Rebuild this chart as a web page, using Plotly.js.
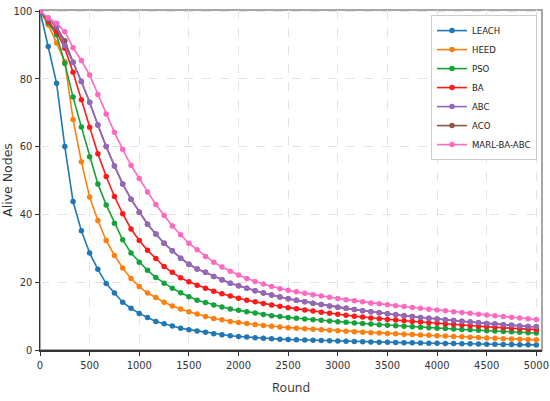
<!DOCTYPE html>
<html>
<head>
<meta charset="utf-8">
<script src="https://cdn.plot.ly/plotly-3.0.1.min.js"></script>
<style>html,body{margin:0;padding:0;background:#fff;}#chart{width:550px;height:401px;}</style>
</head>
<body>
<div id="chart"></div>
<script>
// Rounds: 61 samples from 0 to 5000
var rounds = [];
for (var k = 0; k <= 60; k++) { rounds.push(Math.round(k * 5000 / 60)); }

var seriesNames = ["LEACH", "HEED", "PSO", "BA", "ABC", "ACO", "MARL-BA-ABC"];

var leach = [100, 89.5, 78.7, 60.0, 43.8, 35.2, 28.6, 23.8, 19.6, 16.8, 14.1, 12.3, 10.8, 9.6, 8.4, 7.75, 7.1, 6.4, 6.0, 5.6,
  5.2, 4.8, 4.5, 4.2, 4.0, 3.8, 3.6, 3.45, 3.3, 3.2, 3.1,
  3.02, 2.94, 2.86, 2.79, 2.72, 2.65, 2.58, 2.51, 2.44, 2.37,
  2.31, 2.26, 2.21, 2.16, 2.11, 2.06, 2.01, 1.97, 1.93, 1.89, 1.85, 1.81, 1.77, 1.73, 1.69, 1.65, 1.61, 1.57, 1.54, 1.50];

var heed = [100, 95.9, 90.6, 85.0, 68.0, 55.5, 45.1, 38.2, 32.3, 27.9, 24.2, 21.1, 18.7, 16.8, 15.5, 14.1, 13.0, 12.1, 11.3, 10.6,
  9.9, 9.3, 8.9, 8.4, 8.1, 7.8, 7.5, 7.25, 7.0, 6.8, 6.6,
  6.45, 6.3, 6.15, 6.0, 5.85, 5.7, 5.55, 5.4, 5.25, 5.1,
  4.99, 4.88, 4.77, 4.66, 4.55, 4.44, 4.33, 4.22, 4.11, 4.00, 3.89, 3.78, 3.67, 3.56, 3.45, 3.35, 3.25, 3.16, 3.08, 3.00];

var pso = [100, 96.5, 93.0, 84.5, 74.6, 65.8, 57.0, 49.0, 42.8, 37.4, 32.5, 28.6, 25.9, 23.5, 21.4, 19.7, 18.2, 16.9, 15.7, 14.7,
  14.0, 13.3, 12.7, 12.1, 11.7, 11.3, 10.9, 10.5, 10.1, 9.85, 9.6,
  9.38, 9.17, 8.96, 8.76, 8.56, 8.37, 8.18, 8.00, 7.82, 7.65,
  7.48, 7.32, 7.16, 7.01, 6.86, 6.72, 6.58, 6.45, 6.32, 6.19, 6.06, 5.94, 5.82, 5.70, 5.58, 5.46, 5.35, 5.24, 5.12, 5.00];

var ba = [100, 97.0, 93.9, 89.0, 81.9, 73.8, 65.7, 57.9, 51.2, 45.3, 40.2, 35.7, 32.3, 29.4, 27.0, 24.6, 22.9, 21.3, 20.1, 19.1,
  18.2, 17.3, 16.6, 15.9, 15.3, 14.7, 14.2, 13.7, 13.3, 12.9, 12.5,
  12.15, 11.8, 11.47, 11.15, 10.84, 10.54, 10.25, 9.97, 9.70, 9.45,
  9.24, 9.03, 8.83, 8.63, 8.43, 8.24, 8.05, 7.87, 7.69, 7.52, 7.35, 7.18, 7.02, 6.86, 6.71, 6.56, 6.42, 6.28, 6.14, 6.00];

var abc = [100, 97.8, 95.4, 89.8, 84.9, 79.2, 73.1, 66.4, 60.0, 54.3, 49.0, 44.5, 40.6, 37.1, 34.2, 31.5, 29.3, 27.1, 25.3, 23.9,
  22.9, 21.7, 20.7, 19.7, 18.95, 18.2, 17.5, 16.8, 16.2, 15.6, 15.1,
  14.65, 14.22, 13.80, 13.40, 13.01, 12.64, 12.28, 11.93, 11.59, 11.26,
  10.96, 10.67, 10.39, 10.12, 9.86, 9.61, 9.37, 9.14, 8.91, 8.69, 8.47, 8.26, 8.05, 7.85, 7.66, 7.47, 7.29, 7.11, 6.94, 6.85];

var aco = [100, 97.6, 95.2, 91.2, 84.9, 79.2, 73.1, 66.4, 60.0, 54.3, 49.0, 44.5, 40.6, 37.1, 34.2, 31.5, 29.3, 27.1, 25.3, 23.9,
  22.9, 21.7, 20.7, 19.7, 18.95, 18.2, 17.5, 16.8, 16.2, 15.6, 15.1,
  14.65, 14.22, 13.80, 13.40, 13.01, 12.64, 12.28, 11.93, 11.59, 11.26,
  10.96, 10.67, 10.39, 10.12, 9.86, 9.61, 9.37, 9.14, 8.91, 8.69, 8.47, 8.26, 8.05, 7.85, 7.66, 7.47, 7.29, 7.11, 6.94, 6.85];

var marl = [100, 98.0, 96.4, 93.9, 89.2, 85.4, 81.1, 75.4, 69.6, 64.2, 59.2, 54.5, 50.6, 46.6, 42.9, 39.7, 36.6, 34.0, 31.5, 29.6,
  27.6, 25.9, 24.5, 23.2, 22.1, 21.1, 20.2, 19.45, 18.75, 18.1, 17.6,
  17.15, 16.72, 16.31, 15.92, 15.55, 15.2, 14.86, 14.53, 14.21, 13.9,
  13.62, 13.35, 13.08, 12.82, 12.56, 12.30, 12.05, 11.80, 11.55, 11.30, 11.06, 10.82, 10.58, 10.35, 10.12, 9.89, 9.66, 9.44, 9.22, 9.00];

var xTicks = [0, 500, 1000, 1500, 2000, 2500, 3000, 3500, 4000, 4500, 5000];
var yTicks = [0, 20, 40, 60, 80, 100];

var colors = ["#1f77b4", "#ff7f0e", "#14a33a", "#ff1a1a", "#9467bd", "#8c564b", "#ff69c0"];
var values = [leach, heed, pso, ba, abc, aco, marl];
// draw order: ACO beneath ABC
var drawOrder = [0, 1, 2, 3, 5, 4, 6];

var traces = drawOrder.map(function (i) {
  return {
    x: rounds, y: values[i], name: seriesNames[i], type: "scatter", mode: "lines+markers",
    line: {color: colors[i], width: 1.6},
    marker: {color: colors[i], size: 5.5, symbol: "circle"},
    legendrank: i + 1
  };
});

var tickFont = {family: "'Liberation Sans Narrow', 'DejaVu Sans Condensed', 'Open Sans', sans-serif", size: 11, color: "#333"};

var layout = {
  width: 550, height: 401,
  margin: {l: 40, r: 8, t: 10, b: 51},
  paper_bgcolor: "#fff", plot_bgcolor: "#fff",
  showlegend: true,
  legend: {
    x: 0.99, y: 0.985, xanchor: "right", yanchor: "top",
    bgcolor: "rgba(255,255,255,0.9)", bordercolor: "#cccccc", borderwidth: 1,
    font: {family: "'Liberation Sans Narrow', 'DejaVu Sans Condensed', 'Open Sans', sans-serif", size: 9.5, color: "#222"},
    tracegroupgap: 0, itemwidth: 30
  },
  xaxis: {
    range: [0, 5057], tickvals: xTicks, ticktext: xTicks.map(String),
    showgrid: true, gridcolor: "#e3e3e3", griddash: "dash", gridwidth: 1,
    zeroline: false, showline: true, linecolor: "#333", linewidth: 1.5,
    ticks: "outside", ticklen: 4, tickcolor: "#333", tickfont: tickFont,
    title: {text: "Round", font: {family: "'Open Sans', 'DejaVu Sans', sans-serif", size: 12.5, color: "#333"}, standoff: 12}
  },
  yaxis: {
    range: [0, 100.3], tickvals: yTicks, ticktext: yTicks.map(String),
    showgrid: true, gridcolor: "#e3e3e3", griddash: "dash", gridwidth: 1,
    zeroline: false, showline: true, linecolor: "#333", linewidth: 1.5,
    ticks: "outside", ticklen: 4, tickcolor: "#333", tickfont: tickFont,
    title: {text: "Alive Nodes", font: {family: "'DejaVu Sans', sans-serif", size: 12.5, color: "#333"}, standoff: 8}
  },
  shapes: [{
    type: "rect", xref: "paper", yref: "paper", x0: 0, x1: 1, y0: 0, y1: 1,
    line: {color: "#8a8a8a", width: 1.5}, fillcolor: "rgba(0,0,0,0)", layer: "below"
  }]
};

Plotly.newPlot("chart", traces, layout, {displayModeBar: false, staticPlot: true});
</script>
</body>
</html>
